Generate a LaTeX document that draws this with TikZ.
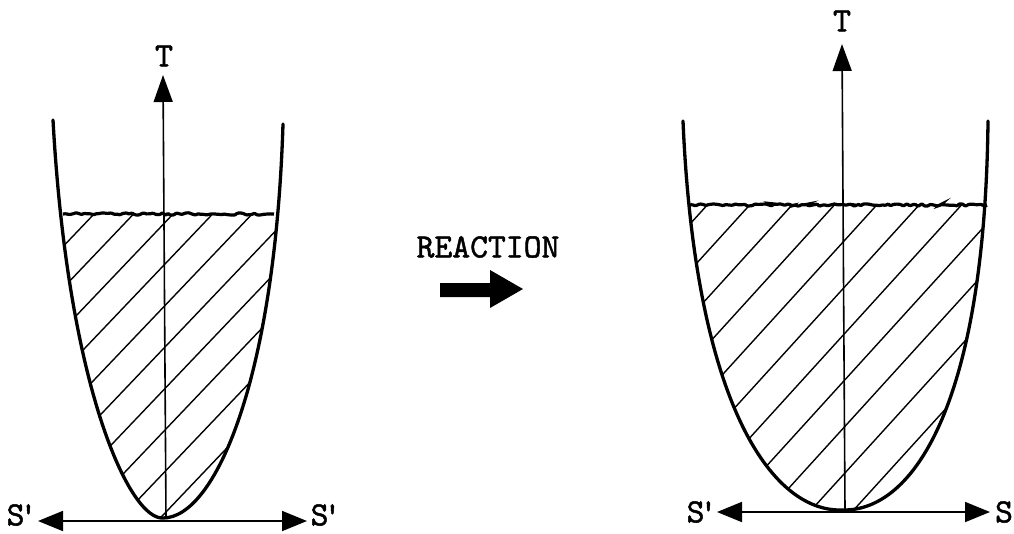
\documentclass[tikz,border=0pt]{standalone}
\usepackage{fontspec}
\newfontfamily\tw{lmmono10-regular}[Extension=.otf,Ligatures=TeXOff,FakeBold=1.4]
\usetikzlibrary{arrows.meta,decorations.pathmorphing}
\tikzset{
  lbl/.style={font=\tw\fontsize{34}{34}\selectfont, inner sep=0pt},
  axisline/.style={line width=1.6pt},
  bowl/.style={line width=3.3pt, line join=round, line cap=round},
  hatch/.style={line width=1.4pt},
  level/.style={line width=3.2pt, decorate,
    decoration={random steps, segment length=3pt, amplitude=1.2pt},
    rounded corners=0.8pt},
  tipT/.style={-{Triangle[length=27pt,width=19pt]}},
  tipH/.style={{Triangle[length=25pt,width=20pt]}-{Triangle[length=25pt,width=20pt]}}
}
\begin{document}
\begin{tikzpicture}[x=1pt,y=-1pt]
\useasboundingbox (0,0) rectangle (1014,533);
\pgfmathsetseed{7}

% ---------- left diagram ----------
\coordinate (LTb) at (166,519);
\coordinate (LTt) at (163,75);
\coordinate (LHl) at (38,521);
\coordinate (LHr) at (307,521);
\coordinate (LLa) at (63,214);
\coordinate (LLb) at (274,214);
\coordinate (Lv) at (163,518);
\coordinate (Ltl) at (53,120);
\coordinate (Ltr) at (283,124);

\begin{scope}
  \clip (0,214) rectangle (340,533);
  \clip (Ltl) .. controls (68,390) and (130,520) .. (Lv)
        .. controls (215,518) and (275,380) .. (Ltr) -- cycle;
  \foreach \k in {0,...,9} {
    \pgfmathsetmacro\yk{139.5+41.5*\k}
    \draw[hatch] (-35,{\yk+210}) -- (365,{\yk-210});
  }
\end{scope}
\draw[bowl] (Ltl) .. controls (68,390) and (130,520) .. (Lv)
        .. controls (215,518) and (275,380) .. (Ltr);
\draw[level] (LLa) -- (LLb);
\draw[axisline, tipT] (LTb) -- (LTt);
\draw[axisline, line width=1.8pt, tipH] (LHl) -- (LHr);
\node[lbl] (LTlab) at (164,56) {T};
\node[lbl] (LSl) at (22,515) {S\kern-5pt'};
\node[lbl] (LSr) at (326,515) {S\kern-5pt'};

% ---------- reaction arrow ----------
\node[lbl] (react) at (488,247) {REACTION};
\fill (440,283) -- (490,283) -- (490,270) -- (523,289) -- (490,308) -- (490,297) -- (440,297) -- cycle;

% ---------- right diagram ----------
\coordinate (RTb) at (845,510);
\coordinate (RTt) at (842,44);
\coordinate (RHl) at (717,512);
\coordinate (RHr) at (990,512);
\coordinate (RLa) at (690,205);
\coordinate (RLb) at (987,205);
\coordinate (Rv) at (842,510);
\coordinate (Rtl) at (683,121);
\coordinate (Rtr) at (988,121);

\begin{scope}
  \clip (600,205) rectangle (1014,533);
  \clip (Rtl) .. controls (695,400) and (770,512) .. (Rv)
        .. controls (915,512) and (985,400) .. (Rtr) -- cycle;
  \foreach \k in {0,...,10} {
    \pgfmathsetmacro\yk{54.6+46.6*\k}
    \draw[hatch] (644,{\yk+220}) -- (1044,{\yk-220});
  }
\end{scope}
\draw[bowl] (Rtl) .. controls (695,400) and (770,512) .. (Rv)
        .. controls (915,512) and (985,400) .. (Rtr);
\draw[level] (RLa) -- (RLb);
\draw[axisline, tipT] (RTb) -- (RTt);
\draw[axisline, line width=1.8pt, tipH] (RHl) -- (RHr);
\node[lbl] (RTlab) at (842,21) {T};
\node[lbl] (RSl) at (702,512) {S\kern-5pt'};
\node[lbl] (RSr) at (1004,512) {S};
\end{tikzpicture}
\end{document}
